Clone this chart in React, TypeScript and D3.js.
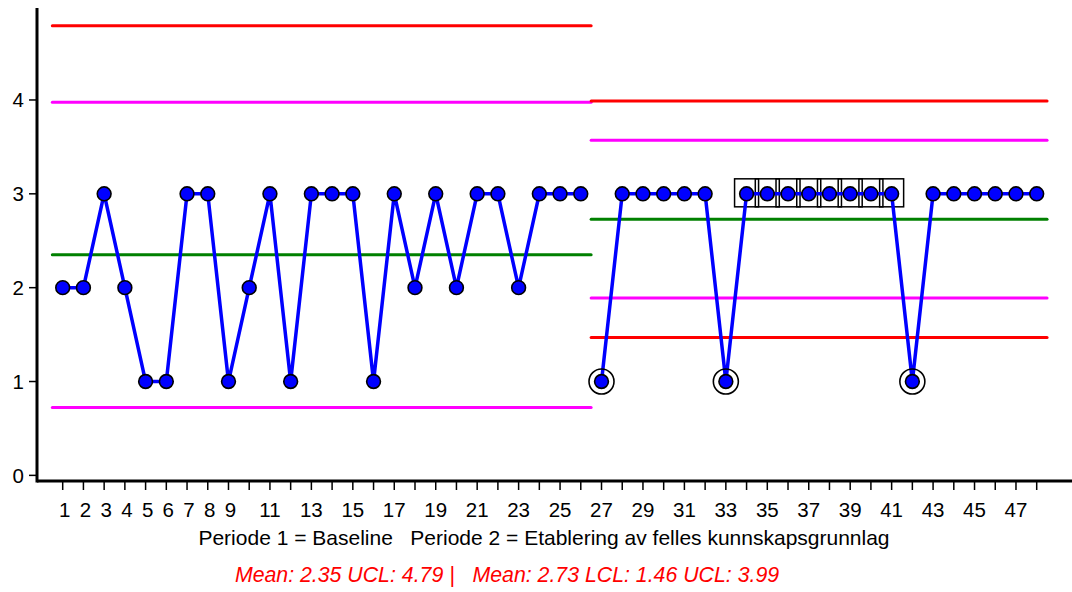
import React from "react";
import * as d3 from "d3";

// Observation values (ordinal score per measurement)
const observations = d3.range(1, 49);
const values = [
  2, 2, 3, 2, 1, 1, 3, 3, 1, 2, 3, 1, 3, 3, 3, 1, 3, 2, 3, 2, 3, 3, 2, 3, 3, 3,
  1, 3, 3, 3, 3, 3, 1, 3, 3, 3, 3, 3, 3, 3, 3, 1, 3, 3, 3, 3, 3, 3,
];

// Period definitions and control limits
const periodStart = [1, 27];
const periodEnd = [26, 48];
const periodMean = [2.35, 2.73];
const periodUCL = [4.79, 3.99];

// Special-cause markings
const circledPoints = [27, 33, 42];
const boxedPoints = [34, 35, 36, 37, 38, 39, 40, 41];

const xTickLabels = [1, 2, 3, 4, 5, 6, 7, 8, 9, 11, 13, 15, 17, 19, 21, 23, 25, 27, 29, 31, 33, 35, 37, 39, 41, 43, 45, 47];
const yTicks = [0, 1, 2, 3, 4];

const axisTitle = "Periode 1 = Baseline   Periode 2 = Etablering av felles kunnskapsgrunnlag";
const summaryText = "Mean: 2.35 UCL: 4.79 |   Mean: 2.73 LCL: 1.46 UCL: 3.99";

const W = 1072;
const H = 592;
const FONT = "'Liberation Sans', Arial, sans-serif";

export default function App() {
  const x = d3.scaleLinear().domain([1, 48]).range([62.7, 1036.7]);
  const y = d3.scaleLinear().domain([-0.06, 4.98]).range([481, 8]);
  const axisX = 37;
  const axisY = 481;

  const line = d3
    .line<number>()
    .x((d) => x(d))
    .y((d) => y(values[d - 1]));

  const limitLines: { x1: number; x2: number; v: number; color: string }[] = [];
  periodStart.forEach((s, i) => {
    const mean = periodMean[i];
    const sigma = (periodUCL[i] - mean) / 3;
    const levels = [
      { v: mean + 3 * sigma, color: "#ff0000" },
      { v: mean + 2 * sigma, color: "#ff00ff" },
      { v: mean, color: "#008000" },
      { v: mean - 2 * sigma, color: "#ff00ff" },
      { v: mean - 3 * sigma, color: "#ff0000" },
    ];
    levels
      .filter((l) => l.v >= 0)
      .forEach((l) => limitLines.push({ x1: x(s - 0.5), x2: x(periodEnd[i] + 0.5), v: l.v, color: l.color }));
  });

  return (
    <svg
      width={W}
      height={H}
      style={{ position: "absolute", left: 0, top: 0, background: "#fff" }}
      fontFamily={FONT}
    >
      <rect x={0} y={0} width={W} height={H} fill="#fff" />

      {/* control limits and centre lines */}
      {limitLines.map((l, i) => (
        <line
          key={"lim" + i}
          x1={l.x1}
          x2={l.x2}
          y1={y(l.v)}
          y2={y(l.v)}
          stroke={l.color}
          strokeWidth={3}
          strokeLinecap="round"
        />
      ))}

      {/* run boxes */}
      {boxedPoints.map((p) => (
        <rect
          key={"box" + p}
          x={x(p) - 12}
          y={y(values[p - 1]) - 15}
          width={24}
          height={28}
          fill="none"
          stroke="#000"
          strokeWidth={1.5}
        />
      ))}

      {/* data lines per period */}
      {periodStart.map((s, i) => (
        <path
          key={"ln" + i}
          d={line(d3.range(s, periodEnd[i] + 1)) || ""}
          fill="none"
          stroke="#0000ff"
          strokeWidth={3.5}
          strokeLinejoin="round"
        />
      ))}

      {/* signal rings */}
      {circledPoints.map((p) => (
        <circle
          key={"ring" + p}
          cx={x(p)}
          cy={y(values[p - 1])}
          r={12.5}
          fill="none"
          stroke="#000"
          strokeWidth={1.6}
        />
      ))}

      {/* points */}
      {observations.map((o) => (
        <circle
          key={"pt" + o}
          cx={x(o)}
          cy={y(values[o - 1])}
          r={6.9}
          fill="#0000ff"
          stroke="#000"
          strokeWidth={1.6}
        />
      ))}

      {/* axes */}
      <line x1={axisX} x2={axisX} y1={8} y2={axisY + 1.5} stroke="#000" strokeWidth={3} />
      <line x1={axisX} x2={W} y1={axisY} y2={axisY} stroke="#000" strokeWidth={3} />

      {yTicks.map((t) => (
        <g key={"yt" + t}>
          <line x1={axisX - 8} x2={axisX} y1={y(t)} y2={y(t)} stroke="#000" strokeWidth={1.5} />
          <text x={24} y={y(t) + 7.5} textAnchor="end" fontSize={20.5} fill="#000">
            {t}
          </text>
        </g>
      ))}

      {observations.map((o) => (
        <line key={"xt" + o} x1={x(o)} x2={x(o)} y1={axisY} y2={axisY + 9} stroke="#000" strokeWidth={1.5} />
      ))}
      {xTickLabels.map((t) => (
        <text key={"xl" + t} x={x(t) + (t < 10 ? 2 : 0)} y={517} textAnchor="middle" fontSize={20.5} fill="#000">
          {t}
        </text>
      ))}

      <text x={544} y={545} textAnchor="middle" fontSize={21} fill="#000" style={{ whiteSpace: "pre" }}>
        {axisTitle}
      </text>
      <text
        x={507}
        y={582}
        textAnchor="middle"
        fontSize={21.3}
        fontStyle="italic"
        fill="#ff0000"
        style={{ whiteSpace: "pre" }}
      >
        {summaryText}
      </text>
    </svg>
  );
}
